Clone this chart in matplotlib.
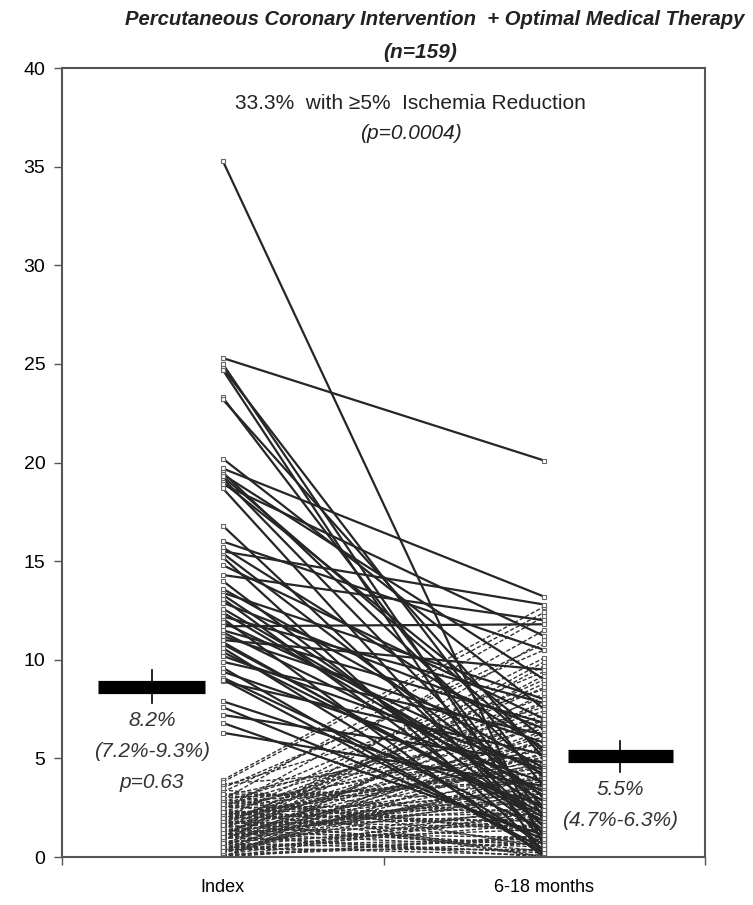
import numpy as np
import matplotlib.pyplot as plt

# ---- data ----
# patients whose lines are drawn solid (index ischemia >= ~5%)
index_solid = [35.3, 25.3, 25.0, 24.8, 24.7, 23.3, 23.2, 20.2, 19.7, 19.5,
               19.4, 19.2, 19.0, 18.7, 16.8, 16.0, 15.7, 15.4, 15.2, 14.8,
               14.3, 13.6, 13.4, 13.1, 12.9, 12.4, 12.1, 11.9, 11.7, 11.4,
               11.2, 10.9, 10.6, 10.4, 9.9, 9.6, 9.4, 9.1, 8.9, 7.9,
               7.6, 7.2, 6.8, 6.3, 19.3, 15.5, 13.3, 12.2, 11.0, 10.2,
               9.0, 12.6, 14.0, 11.5, 18.9, 10.8]
follow_solid = [0.5, 20.1, 1.0, 3.5, 0.0, 2.0, 5.0, 7.5, 13.2, 4.0,
                9.0, 2.5, 6.0, 0.8, 1.5, 10.5, 5.5, 3.0, 0.3, 7.0,
                12.0, 4.5, 8.0, 1.2, 6.5, 2.8, 0.0, 4.2, 11.8, 3.3,
                5.8, 1.8, 0.6, 2.2, 6.2, 0.2, 3.8, 1.4, 5.2, 2.6,
                0.9, 4.8, 1.1, 3.6, 5.3, 12.8, 2.4, 7.8, 9.5, 4.4,
                0.4, 3.1, 1.6, 6.8, 11.2, 2.0]

# patients whose lines are drawn dashed (low index ischemia)
index_dash = [3.9, 3.7, 3.6, 3.4, 3.3, 3.2, 3.1, 3.0, 2.9, 2.9,
              2.8, 2.7, 2.7, 2.6, 2.5, 2.5, 2.4, 2.3, 2.3, 2.2,
              2.2, 2.1, 2.0, 2.0, 1.9, 1.9, 1.8, 1.8, 1.7, 1.7,
              1.6, 1.6, 1.5, 1.5, 1.4, 1.4, 1.3, 1.3, 1.2, 1.2,
              1.1, 1.1, 1.0, 1.0, 0.9, 0.9, 0.8, 0.8, 0.7, 0.7,
              0.6, 0.6, 0.5, 0.5, 0.4, 0.4, 0.3, 0.3, 0.2, 0.2,
              0.1, 0.1, 0.0, 0.0, 3.5, 3.0, 2.6, 2.4, 2.1, 1.9,
              1.6, 1.3, 1.0, 0.8, 0.5, 0.2, 0.0, 3.8, 2.8, 2.0,
              1.5, 1.1, 0.6, 0.3, 0.0, 2.2, 1.7, 1.2, 0.9, 0.4,
              0.1, 2.5, 1.4, 0.7, 0.0, 3.2, 1.8, 2.7, 0.5, 1.0,
              2.3, 0.3, 1.6]
follow_dash = [12.7, 5.0, 8.5, 2.0, 10.8, 0.5, 6.5, 3.8, 12.2, 1.2,
               7.6, 4.3, 0.0, 9.4, 2.7, 5.8, 11.5, 1.5, 6.9, 3.2,
               0.8, 8.1, 4.6, 2.2, 10.1, 5.5, 0.3, 7.2, 3.5, 1.9,
               9.0, 4.0, 2.5, 6.1, 0.6, 8.8, 3.0, 5.2, 1.0, 7.0,
               4.8, 2.9, 11.0, 0.2, 6.4, 3.6, 1.4, 9.7, 2.4, 5.6,
               0.9, 4.4, 7.8, 2.1, 3.3, 0.4, 6.0, 1.7, 4.1, 8.3,
               2.6, 0.7, 5.3, 1.1, 10.5, 3.9, 7.4, 0.0, 4.7, 2.8,
               6.7, 1.6, 3.4, 9.2, 0.1, 5.1, 2.3, 12.4, 1.3, 4.9,
               3.1, 0.0, 7.9, 2.0, 5.9, 1.8, 8.6, 0.5, 3.7, 6.3,
               1.0, 4.5, 2.2, 0.3, 6.8, 3.0, 1.5, 5.4, 0.8, 9.9,
               2.4, 4.2, 0.6]

# group means with 95% CI as drawn
mean_vals = [8.6, 5.1]
ci_low = [7.8, 4.3]
ci_high = [9.5, 5.9]
mean_text = ["8.2%\n(7.2%-9.3%)\np=0.63", "5.5%\n(4.7%-6.3%)"]

timepoints = ["Index", "6-18 months"]

plt.rcParams['font.family'] = ['Liberation Sans', 'DejaVu Sans']

fig = plt.figure(figsize=(7.53, 9.05), dpi=100)
ax = fig.add_axes([0.0823, 0.053, 0.8540, 0.8718])

x_pos = [1, 3]

# dashed lines first, solid ones on top
for a, b in zip(index_dash, follow_dash):
    ax.plot(x_pos, [a, b], ls=(0, (3, 1.5)), lw=1.0, color='#333333',
            marker='s', ms=3.5, mfc='white', mec='#666666', mew=0.8)
for a, b in zip(index_solid, follow_solid):
    ax.plot(x_pos, [a, b], ls='-', lw=1.6, color='#262626',
            marker='s', ms=3.5, mfc='white', mec='#666666', mew=0.8)

# mean bars and CI lines
bar_x = [(0.224, 0.89), (3.148, 3.80)]
ci_x = [0.56, 3.47]
for (x0, x1), cx, m, lo, hi in zip(bar_x, ci_x, mean_vals, ci_low, ci_high):
    ax.plot([x0, x1], [m, m], color='black', lw=9.5, solid_capstyle='butt')
    ax.plot([cx, cx], [lo, hi], color='black', lw=1.2)

ax.text(0.56, 7.4, mean_text[0], ha='center', va='top', fontsize=15,
        style='italic', color='#333333', linespacing=1.8)
ax.text(3.47, 3.9, mean_text[1], ha='center', va='top', fontsize=15,
        style='italic', color='#333333', linespacing=1.8)

ax.text(2.17, 38.2, "33.3%  with \u22655%  Ischemia Reduction", ha='center',
        va='center', fontsize=15, color='#222222')
ax.text(2.17, 36.7, "(p=0.0004)", ha='center', va='center', fontsize=15,
        style='italic', color='#222222')

ax.set_xlim(0, 4)
ax.set_ylim(0, 40)
ax.set_yticks(np.arange(0, 41, 5))
ax.set_xticks([0, 2, 4])
ax.set_xticklabels([])
ax.set_xticks(x_pos, minor=True)
ax.set_xticklabels(timepoints, minor=True)
ax.tick_params(axis='x', which='minor', length=0, pad=16, labelsize=13)
ax.tick_params(axis='x', which='major', length=6, width=1, color='#555555')
ax.tick_params(axis='y', length=6, width=1, color='#555555', labelsize=14,
               pad=6)
for s in ax.spines.values():
    s.set_color('#555555')
    s.set_linewidth(1.5)

fig.text(0.577, 0.978, "Percutaneous Coronary Intervention  + Optimal Medical Therapy",
         ha='center', va='center', fontsize=14.6, weight='bold', style='italic',
         color='#222222')
fig.text(0.558, 0.942, "(n=159)", ha='center', va='center', fontsize=15,
         weight='bold', style='italic', color='#222222')

fig.savefig('out.png', dpi=100)
